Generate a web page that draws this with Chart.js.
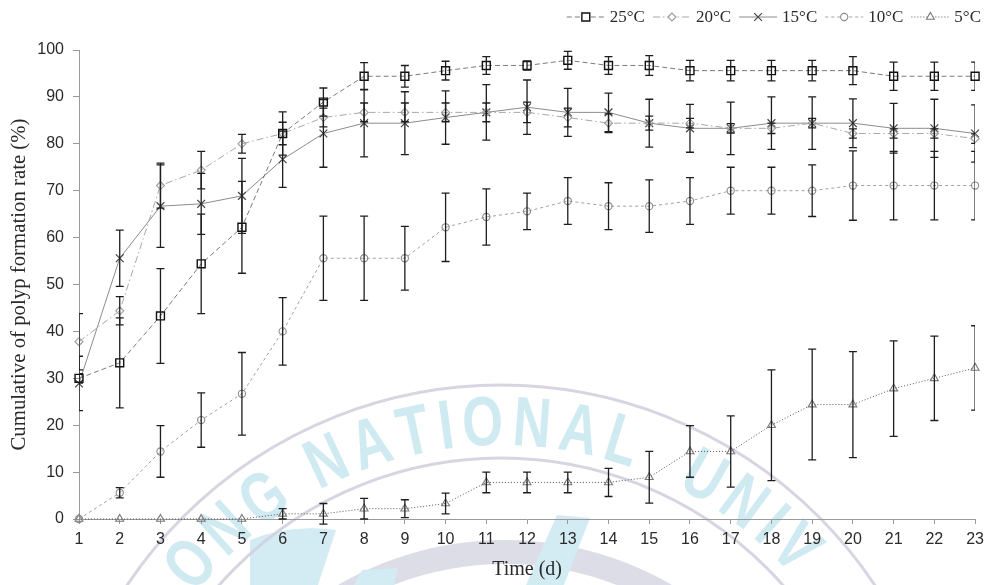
<!DOCTYPE html>
<html>
<head>
<meta charset="utf-8">
<script src="https://cdn.jsdelivr.net/npm/chart.js@4.4.1/dist/chart.umd.min.js"></script>
<style>
  html, body { margin: 0; padding: 0; background: #ffffff; }
  #wrap { width: 990px; height: 585px; }
</style>
</head>
<body>
<div id="wrap"><canvas id="chart" width="990" height="585"></canvas></div>
<script>
// Days of culture
const days = [1, 2, 3, 4, 5, 6, 7, 8, 9, 10, 11, 12, 13, 14, 15, 16, 17, 18, 19, 20, 21, 22, 23];

// Mean cumulative polyp formation rate (%) per temperature
const rate25 = [30, 33.3, 43.3, 54.4, 62.2, 82.2, 88.9, 94.4, 94.4, 95.6, 96.7, 96.7, 97.8, 96.7, 96.7, 95.6, 95.6, 95.6, 95.6, 95.6, 94.4, 94.4, 94.4];
const rate20 = [37.8, 44.4, 71.1, 74.4, 80, 82.2, 85.6, 86.7, 86.7, 86.7, 86.7, 86.7, 85.6, 84.4, 84.4, 84.4, 83.3, 83.3, 84.4, 82.2, 82.2, 82.2, 81.1];
const rate15 = [28.9, 55.6, 66.7, 67.2, 68.9, 76.7, 82.2, 84.4, 84.4, 85.6, 86.7, 87.8, 86.7, 86.7, 84.4, 83.3, 83.3, 84.4, 84.4, 84.4, 83.3, 83.3, 82.2];
const rate10 = [0, 5.6, 14.4, 21.1, 26.7, 40, 55.6, 55.6, 55.6, 62.2, 64.4, 65.6, 67.8, 66.7, 66.7, 67.8, 70, 70, 70, 71.1, 71.1, 71.1, 71.1];
const rate5  = [0, 0, 0, 0, 0, 1.1, 1.1, 2.2, 2.2, 3.3, 7.8, 7.8, 7.8, 7.8, 8.9, 14.4, 14.4, 20, 24.4, 24.4, 27.8, 30, 32.2];

// Standard deviations (error bars)
const sd25 = [1, 9.6, 10.1, 10.6, 9.8, 4.6, 3, 2.9, 2.3, 2, 1.9, 1, 1.9, 1.9, 2.1, 2.2, 2.2, 2.2, 2.2, 3, 3, 3, 3];
const sd20 = [6, 3, 4.8, 4, 2, 2.4, 2, 2, 2, 2, 2, 2.2, 2, 2, 1.5, 1, 1, 1.1, 1, 1, 1, 1, 1];
const sd15 = [5.8, 6, 8.8, 6.5, 8, 6, 7.2, 7.2, 6.7, 5.7, 5.9, 5.8, 5.1, 4.1, 5.1, 5.1, 5.6, 5.6, 5.6, 5.2, 5.3, 6.2, 6.1];
const sd10 = [0, 1.1, 5.5, 5.8, 8.8, 7.2, 9, 9, 6.8, 7.3, 6, 3.9, 5, 5, 5.6, 5, 5, 5, 5.5, 7.4, 7.3, 7.3, 7.3];
const sd5  = [0, 0, 0, 0, 0, 1.1, 2.2, 2.2, 1.9, 2.2, 2.2, 2.2, 2.2, 3, 5.5, 5.5, 7.6, 11.8, 11.8, 11.3, 10.2, 9, 9];

// Axis and legend text
const seriesLabels = ['25°C', '20°C', '15°C', '10°C', '5°C'];
const yTicks = [0, 10, 20, 30, 40, 50, 60, 70, 80, 90, 100];
const xTitle = 'Time (d)';
const yTitle = 'Cumulative of polyp formation rate (%)';

const SERIF = '"Liberation Serif", "Times New Roman", serif';
const SANS = '"Liberation Sans", Arial, sans-serif';

const styles = [
  { color: '#7c7c7c', dash: [5, 3],          width: 1,   point: 'rect',     radius: 5.6, pointColor: '#111', pointWidth: 1.4 },
  { color: '#a8a8a8', dash: [7, 3, 1.5, 3],  width: 1,   point: 'rectRot',  radius: 4,   pointColor: '#9a9a9a', pointWidth: 1.1 },
  { color: '#8c8c8c', dash: [],              width: 1,   point: 'crossRot', radius: 5.5, pointColor: '#444', pointWidth: 1.2 },
  { color: '#a0a0a0', dash: [3, 3],          width: 1,   point: 'circle',   radius: 3.6, pointColor: '#8a8a8a', pointWidth: 1.1 },
  { color: '#555555', dash: [1, 2],          width: 1,   point: 'triangle', radius: 4.6, pointColor: '#7a7a7a', pointWidth: 1.1 }
];
const values = [rate25, rate20, rate15, rate10, rate5];
const errors = [sd25, sd20, sd15, sd10, sd5];

const datasets = values.map((vals, i) => ({
  label: seriesLabels[i],
  data: days.map((d, k) => ({ x: d, y: vals[k] })),
  borderColor: styles[i].color,
  borderWidth: styles[i].width,
  borderDash: styles[i].dash,
  pointStyle: styles[i].point,
  pointRadius: styles[i].radius,
  pointBorderColor: styles[i].pointColor,
  pointBorderWidth: styles[i].pointWidth,
  pointBackgroundColor: 'rgba(255,255,255,0)',
  pointHoverRadius: styles[i].radius,
  tension: 0,
  fill: false,
  clip: false,
  errors: errors[i]
}));

// Faint university seal printed behind the plot
const seal = {
  id: 'seal',
  beforeDraw(chart) {
    const ctx = chart.ctx;
    ctx.save();
    ctx.fillStyle = '#ffffff';
    ctx.fillRect(0, 0, chart.width, chart.height);
    const cx = 501, cy = 834;

    // emblem band and strokes
    ctx.strokeStyle = 'rgba(214,215,226,0.85)';
    ctx.lineWidth = 24;
    ctx.beginPath();
    ctx.arc(505, 872, 320, Math.PI, Math.PI * 2);
    ctx.stroke();
    ctx.fillStyle = '#d3ecf3';
    ctx.beginPath();
    ctx.moveTo(557, 515); ctx.lineTo(590, 518); ctx.lineTo(564, 585); ctx.lineTo(526, 585); ctx.closePath();
    ctx.fill();
    ctx.beginPath();
    ctx.moveTo(250, 540); ctx.quadraticCurveTo(290, 524, 336, 530); ctx.lineTo(318, 585); ctx.lineTo(250, 585); ctx.closePath();
    ctx.fill();
    ctx.beginPath();
    ctx.moveTo(362, 570); ctx.lineTo(398, 568); ctx.lineTo(394, 585); ctx.lineTo(354, 585); ctx.closePath();
    ctx.fill();

    // rings
    ctx.strokeStyle = 'rgba(208,209,222,0.9)';
    ctx.lineWidth = 3;
    ctx.beginPath(); ctx.arc(cx, cy, 449, 0, Math.PI * 2); ctx.stroke();
    ctx.beginPath(); ctx.arc(cx, cy, 376, 0, Math.PI * 2); ctx.stroke();

    // arched lettering
    ctx.fillStyle = '#d0eaf2';
    ctx.font = 'bold 70px ' + SANS;
    ctx.textAlign = 'center';
    ctx.textBaseline = 'alphabetic';
    const sx = 0.75, spacing = 7.3, rBase = 389;
    const place = (word, anchorIndex, anchorDeg) => {
      const w = [...word].map(ch => ctx.measureText(ch).width * sx + spacing);
      let before = 0;
      for (let k = 0; k < anchorIndex; k++) before += w[k];
      before += w[anchorIndex] / 2;
      let cursor = anchorDeg * Math.PI / 180 - before / rBase;
      [...word].forEach((ch, k) => {
        const a = cursor + (w[k] / 2) / rBase;
        cursor += w[k] / rBase;
        if (ch === ' ') return;
        ctx.save();
        ctx.translate(cx, cy);
        ctx.rotate(a);
        ctx.translate(0, -rBase);
        ctx.scale(sx, 1);
        ctx.fillText(ch, 0, 0);
        ctx.restore();
      });
    };
    place('ONG NATIONAL', 2, -35.2);
    place('UNIV', 0, 29.6);
    ctx.restore();
  }
};

// Vertical error bars with caps, clipped to the plot width
const errorBars = {
  id: 'errorBars',
  afterDatasetsDraw(chart) {
    const { ctx, chartArea, scales } = chart;
    ctx.save();
    ctx.beginPath();
    ctx.rect(chartArea.left, 0, chartArea.right - chartArea.left, chart.height);
    ctx.clip();
    ctx.strokeStyle = '#1e1e1e';
    ctx.lineWidth = 1.3;
    ctx.setLineDash([]);
    chart.data.datasets.forEach((ds, i) => {
      const meta = chart.getDatasetMeta(i);
      ds.data.forEach((p, k) => {
        const e = ds.errors[k];
        if (!e) return;
        const x = meta.data[k].x;
        const yTop = scales.y.getPixelForValue(p.y + e);
        const yBot = scales.y.getPixelForValue(p.y - e);
        ctx.beginPath();
        ctx.moveTo(x, yTop); ctx.lineTo(x, yBot);
        ctx.moveTo(x - 4, yTop); ctx.lineTo(x + 4, yTop);
        ctx.moveTo(x - 4, yBot); ctx.lineTo(x + 4, yBot);
        ctx.stroke();
      });
    });
    ctx.restore();
  }
};

// Legend row: line sample with marker, then label
const lineLegend = {
  id: 'lineLegend',
  afterDraw(chart) {
    const ctx = chart.ctx;
    ctx.save();
    ctx.font = '17px ' + SERIF;
    ctx.textBaseline = 'middle';
    ctx.textAlign = 'left';
    const lineLen = 38, gapText = 5, gapItem = 8, yMid = 17;
    const widths = chart.data.datasets.map(ds => lineLen + gapText + ctx.measureText(ds.label).width);
    const total = widths.reduce((a, b) => a + b, 0) + gapItem * (widths.length - 1);
    let x = 981 - total;
    chart.data.datasets.forEach((ds, i) => {
      const st = styles[i];
      ctx.strokeStyle = st.color;
      ctx.lineWidth = 1;
      ctx.setLineDash(st.dash);
      ctx.beginPath();
      ctx.moveTo(x, yMid); ctx.lineTo(x + lineLen, yMid);
      ctx.stroke();
      ctx.setLineDash([]);
      ctx.strokeStyle = st.pointColor;
      ctx.fillStyle = '#ffffff';
      ctx.lineWidth = st.pointWidth;
      Chart.helpers.drawPoint(ctx, { pointStyle: st.point, radius: st.radius, borderWidth: st.pointWidth, rotation: 0 }, x + lineLen / 2, yMid);
      ctx.fillStyle = '#2a2a2a';
      ctx.fillText(ds.label, x + lineLen + gapText, yMid + 1);
      x += widths[i] + gapItem;
    });
    ctx.restore();
  }
};

new Chart(document.getElementById('chart'), {
  type: 'line',
  data: { datasets },
  options: {
    responsive: false,
    animation: false,
    events: [],
    layout: { padding: { top: 50, right: 13, left: 0, bottom: 0 } },
    plugins: { legend: { display: false }, tooltip: { enabled: false } },
    scales: {
      x: {
        type: 'linear',
        min: 1,
        max: 23,
        afterFit(scale) { scale.height = 66; },
        afterBuildTicks(scale) { scale.ticks = days.map(v => ({ value: v })); },
        ticks: { color: '#2a2a2a', font: { family: SANS, size: 16 }, padding: 6, maxRotation: 0, autoSkip: false },
        grid: { display: true, drawOnChartArea: false, drawTicks: true, tickLength: 5, color: '#9a9a9a' },
        border: { display: true, color: '#9a9a9a', width: 1 },
        title: { display: true, text: xTitle, color: '#2a2a2a', font: { family: SERIF, size: 20 }, padding: { top: 0, bottom: 3 } }
      },
      y: {
        min: 0,
        max: 100,
        afterFit(scale) { scale.width = 79; },
        afterBuildTicks(scale) { scale.ticks = yTicks.map(v => ({ value: v })); },
        ticks: { color: '#2a2a2a', font: { family: SANS, size: 16 }, padding: 9 },
        grid: { display: true, drawOnChartArea: false, drawTicks: true, tickLength: 6, color: '#9a9a9a' },
        border: { display: true, color: '#9a9a9a', width: 1 },
        title: { display: true, text: yTitle, color: '#2a2a2a', font: { family: SERIF, size: 20.8 }, padding: { top: 7, bottom: 0 } }
      }
    }
  },
  plugins: [seal, errorBars, lineLegend]
});
</script>
</body>
</html>
